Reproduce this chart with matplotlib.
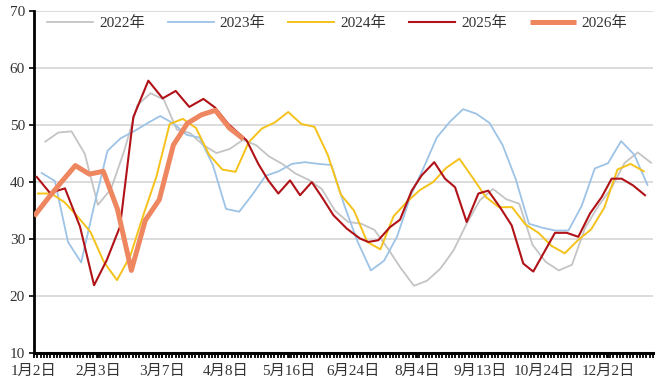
import numpy as np
import matplotlib
matplotlib.use("Agg")
import matplotlib.pyplot as plt
from matplotlib.ticker import MultipleLocator

plt.rcParams['font.family'] = ['Liberation Serif', 'Noto Sans CJK SC', 'DejaVu Sans']

# x positions are in "week slots" along the category axis
date_labels = ["1月2日", "2月3日", "3月7日", "4月8日", "5月16日",
               "6月24日", "8月4日", "9月13日", "10月24日", "12月2日"]

v2022 = [47.1, 48.7, 48.9, 45.0, 36.0, 38.8, 45.5, 53.5, 55.6, 54.5, 49.2, 48.6,
         46.5, 45.1, 45.8, 47.4, 46.5, 44.5, 43.2, 41.5, 40.4, 38.8, 35.0, 33.0,
         32.7, 31.6, 28.4, 24.9, 21.8, 22.7, 24.8, 28.0, 32.7, 36.8, 38.8, 37.0,
         36.2, 29.0, 26.0, 24.5, 25.5, 32.0, 35.8, 39.0, 43.4, 45.2, 43.4]
v2023 = [41.6, 40.2, 29.5, 25.9, 36.0, 45.5, 47.7, 48.9, 50.3, 51.6, 50.3, 48.3,
         47.8, 43.0, 35.3, 34.8, 37.8, 41.1, 41.9, 43.2, 43.5, 43.2, 43.0, 35.8,
         29.5, 24.5, 26.2, 30.5, 37.5, 42.5, 47.8, 50.6, 52.8, 52.0, 50.4, 46.5,
         40.5, 32.7, 32.0, 31.5, 31.5, 35.8, 42.4, 43.3, 47.2, 44.8, 39.5]
v2024 = [38.0, 38.0, 36.5, 34.0, 31.2, 26.0, 22.8, 27.0, 34.2, 41.0, 50.2, 51.1,
         49.5, 44.8, 42.2, 41.8, 47.0, 49.4, 50.5, 52.3, 50.2, 49.7, 44.8, 37.8,
         35.0, 29.5, 28.2, 34.0, 36.5, 38.6, 40.0, 42.5, 44.1, 40.8, 37.4, 35.6,
         35.6, 32.6, 31.1, 28.8, 27.5, 29.8, 31.7, 35.5, 42.2, 43.2, 41.9]
start2022, start2023, start2024 = 0.85, 0.58, 0.30

x2025 = [0.21, 1.21, 2.35, 3.49, 4.56, 5.52, 6.53, 7.54, 8.68, 9.77, 10.76, 11.79,
         12.86, 13.74, 14.75, 16.15, 17.03, 17.79, 18.55, 19.44, 20.20, 21.09, 21.85,
         22.73, 23.77, 24.75, 25.38, 26.14, 27.03, 27.79, 28.68, 29.44, 30.39, 31.21,
         31.97, 32.85, 33.74, 34.49, 35.38, 36.27, 37.15, 37.91, 39.56, 40.45, 41.33,
         42.22, 43.11, 43.86, 44.62, 45.50, 46.39]
v2025 = [40.9, 38.1, 38.9, 32.2, 21.9, 26.3, 32.2, 51.4, 57.8, 54.7, 56.0, 53.2,
         54.6, 53.1, 50.2, 47.3, 43.2, 40.3, 38.0, 40.3, 37.7, 40.0, 37.4, 34.2,
         31.8, 30.1, 29.5, 29.8, 32.1, 33.4, 38.5, 41.2, 43.5, 40.6, 39.1, 33.0,
         38.0, 38.5, 35.6, 32.4, 25.7, 24.3, 31.1, 31.1, 30.4, 34.5, 37.4, 40.6,
         40.6, 39.4, 37.7]

x2026 = [0, 1.01, 2.07, 3.14, 4.20, 5.26, 6.33, 7.39, 8.45, 9.51, 10.58, 11.64,
         12.70, 13.77, 14.83, 15.89]
v2026 = [34.0, 37.0, 40.0, 42.9, 41.4, 41.9, 35.3, 24.5, 33.3, 36.9, 46.5, 50.3,
         51.8, 52.6, 49.5, 47.6]

fig = plt.figure(figsize=(6.67, 3.85), dpi=100)
ax = fig.add_axes([0.051, 0.083, 0.928, 0.888])

ax.plot(np.arange(len(v2022)) + start2022, v2022, color="#C4C4C4", lw=1.3, label="2022年", zorder=2)
ax.plot(np.arange(len(v2023)) + start2023, v2023, color="#9DC3E6", lw=1.3, label="2023年", zorder=2)
ax.plot(np.arange(len(v2024)) + start2024, v2024, color="#F5C21B", lw=1.4, label="2024年", zorder=3)
ax.plot(x2025, v2025, color="#B01217", lw=1.5, label="2025年", zorder=4)
ax.plot(x2026, v2026, color="#EE8660", lw=3.6, label="2026年", zorder=5,
        solid_capstyle="butt")

ax.set_xlim(0, 47.0)
ax.set_ylim(10, 70)
ax.set_yticks(range(10, 71, 10))
ax.yaxis.grid(True, color="#D9D9D9", lw=1.3)
ax.set_axisbelow(True)

ax.set_xticks(np.linspace(0, 43.6, len(date_labels)))
ax.set_xticklabels(date_labels)
ax.xaxis.set_minor_locator(MultipleLocator(0.25))
ax.tick_params(axis="x", which="both", length=3.5, width=1.3, direction="out",
               color="black", pad=5, labelsize=11, labelcolor="#333333")
ax.tick_params(axis="y", length=3.5, width=1.2, labelsize=11, pad=3,
               labelcolor="#333333", color="black")

for s in ["top", "right"]:
    ax.spines[s].set_visible(False)
ax.spines["left"].set_linewidth(2.0)
ax.spines["bottom"].set_linewidth(2.2)

ax.legend(loc="upper center", bbox_to_anchor=(0.49, 1.025), ncol=5, frameon=False,
          handlelength=3.0, columnspacing=1.5, handletextpad=0.4,
          prop={"size": 11}, labelcolor="#333333")

fig.savefig("out.png", dpi=100)
